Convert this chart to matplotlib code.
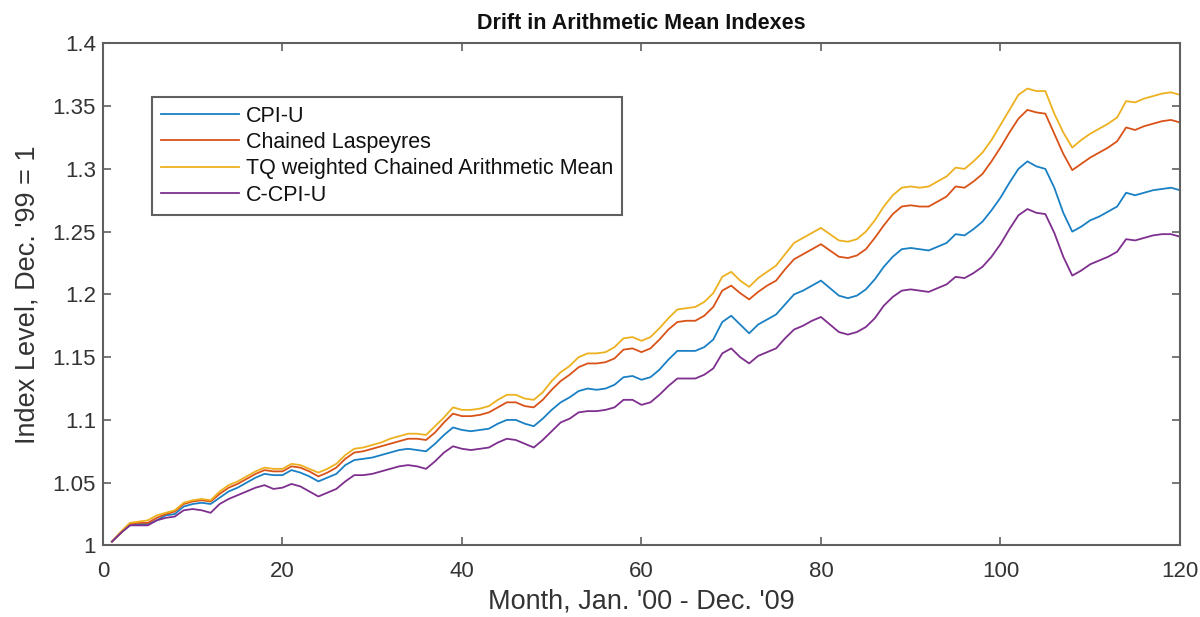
import matplotlib
matplotlib.use("Agg")
import matplotlib.pyplot as plt

plt.rcParams['font.family'] = ['Liberation Sans', 'DejaVu Sans']

months = list(range(1, 121))

cpi_u = [1.003, 1.010, 1.016, 1.017, 1.017, 1.020, 1.024, 1.025, 1.031, 1.033,
         1.034, 1.033, 1.038, 1.043, 1.046, 1.050, 1.054, 1.057, 1.056, 1.056,
         1.060, 1.058, 1.055, 1.051, 1.054, 1.057, 1.064, 1.068, 1.069, 1.070,
         1.072, 1.074, 1.076, 1.077, 1.076, 1.075, 1.081, 1.088, 1.094, 1.092,
         1.091, 1.092, 1.093, 1.097, 1.100, 1.100, 1.097, 1.095, 1.101, 1.108,
         1.114, 1.118, 1.123, 1.125, 1.124, 1.125, 1.128, 1.134, 1.135, 1.132,
         1.134, 1.140, 1.148, 1.155, 1.155, 1.155, 1.158, 1.164, 1.178, 1.183,
         1.176, 1.169, 1.176, 1.180, 1.184, 1.192, 1.200, 1.203, 1.207, 1.211,
         1.205, 1.199, 1.197, 1.199, 1.204, 1.212, 1.222, 1.230, 1.236, 1.237,
         1.236, 1.235, 1.238, 1.241, 1.248, 1.247, 1.252, 1.258, 1.267, 1.277,
         1.289, 1.300, 1.306, 1.302, 1.300, 1.285, 1.265, 1.250, 1.254, 1.259,
         1.262, 1.266, 1.270, 1.281, 1.279, 1.281, 1.283, 1.284, 1.285, 1.283]

chained_laspeyres = [1.003, 1.010, 1.017, 1.018, 1.018, 1.022, 1.025, 1.027, 1.033, 1.035,
                     1.036, 1.035, 1.041, 1.046, 1.049, 1.053, 1.057, 1.060, 1.059, 1.059,
                     1.063, 1.062, 1.059, 1.055, 1.058, 1.062, 1.069, 1.074, 1.075, 1.077,
                     1.079, 1.081, 1.083, 1.085, 1.085, 1.084, 1.090, 1.098, 1.105, 1.103,
                     1.103, 1.104, 1.106, 1.110, 1.114, 1.114, 1.111, 1.110, 1.116, 1.124,
                     1.131, 1.136, 1.142, 1.145, 1.145, 1.146, 1.149, 1.156, 1.157, 1.154,
                     1.157, 1.164, 1.172, 1.178, 1.179, 1.179, 1.183, 1.190, 1.203, 1.207,
                     1.201, 1.196, 1.202, 1.207, 1.211, 1.220, 1.228, 1.232, 1.236, 1.240,
                     1.235, 1.230, 1.229, 1.231, 1.236, 1.245, 1.255, 1.264, 1.270, 1.271,
                     1.270, 1.270, 1.274, 1.278, 1.286, 1.285, 1.290, 1.296, 1.306, 1.317,
                     1.329, 1.340, 1.347, 1.345, 1.344, 1.328, 1.312, 1.299, 1.304, 1.309,
                     1.313, 1.317, 1.322, 1.333, 1.331, 1.334, 1.336, 1.338, 1.339, 1.337]

tq_weighted = [1.003, 1.011, 1.018, 1.019, 1.020, 1.024, 1.026, 1.028, 1.034, 1.036,
               1.037, 1.036, 1.043, 1.048, 1.051, 1.055, 1.059, 1.062, 1.061, 1.061,
               1.065, 1.064, 1.061, 1.058, 1.061, 1.065, 1.072, 1.077, 1.078, 1.080,
               1.082, 1.085, 1.087, 1.089, 1.089, 1.088, 1.095, 1.102, 1.110, 1.108,
               1.108, 1.109, 1.111, 1.116, 1.120, 1.120, 1.117, 1.116, 1.122, 1.131,
               1.138, 1.143, 1.150, 1.153, 1.153, 1.154, 1.158, 1.165, 1.166, 1.163,
               1.166, 1.173, 1.181, 1.188, 1.189, 1.190, 1.194, 1.201, 1.214, 1.218,
               1.211, 1.206, 1.213, 1.218, 1.223, 1.232, 1.241, 1.245, 1.249, 1.253,
               1.248, 1.243, 1.242, 1.244, 1.250, 1.259, 1.270, 1.279, 1.285, 1.286,
               1.285, 1.286, 1.290, 1.294, 1.301, 1.300, 1.306, 1.313, 1.323, 1.335,
               1.347, 1.359, 1.364, 1.362, 1.362, 1.344, 1.329, 1.317, 1.323, 1.328,
               1.332, 1.336, 1.341, 1.354, 1.353, 1.356, 1.358, 1.360, 1.361, 1.359]

c_cpi_u = [1.003, 1.010, 1.016, 1.016, 1.016, 1.020, 1.022, 1.023, 1.028, 1.029,
           1.028, 1.026, 1.033, 1.037, 1.040, 1.043, 1.046, 1.048, 1.045, 1.046,
           1.049, 1.047, 1.043, 1.039, 1.042, 1.045, 1.051, 1.056, 1.056, 1.057,
           1.059, 1.061, 1.063, 1.064, 1.063, 1.061, 1.067, 1.074, 1.079, 1.077,
           1.076, 1.077, 1.078, 1.082, 1.085, 1.084, 1.081, 1.078, 1.084, 1.091,
           1.098, 1.101, 1.106, 1.107, 1.107, 1.108, 1.110, 1.116, 1.116, 1.112,
           1.114, 1.120, 1.127, 1.133, 1.133, 1.133, 1.136, 1.141, 1.153, 1.157,
           1.150, 1.145, 1.151, 1.154, 1.157, 1.165, 1.172, 1.175, 1.179, 1.182,
           1.176, 1.170, 1.168, 1.170, 1.174, 1.181, 1.191, 1.198, 1.203, 1.204,
           1.203, 1.202, 1.205, 1.208, 1.214, 1.213, 1.217, 1.222, 1.230, 1.240,
           1.252, 1.263, 1.268, 1.265, 1.264, 1.249, 1.230, 1.215, 1.219, 1.224,
           1.227, 1.230, 1.234, 1.244, 1.243, 1.245, 1.247, 1.248, 1.248, 1.246]

labels = ["CPI-U", "Chained Laspeyres", "TQ weighted Chained Arithmetic Mean", "C-CPI-U"]
colors = ["#1A80C4", "#D95319", "#EDB120", "#7E2F8E"]

x_ticks = [0, 20, 40, 60, 80, 100, 120]
y_ticks = [1, 1.05, 1.1, 1.15, 1.2, 1.25, 1.3, 1.35, 1.4]
y_ticklabels = ["1", "1.05", "1.1", "1.15", "1.2", "1.25", "1.3", "1.35", "1.4"]

axis_gray = "#606060"
text_gray = "#333333"

fig = plt.figure(figsize=(12, 6.17), dpi=100)
ax = fig.add_axes([0.0858, 0.116, 0.8975, 0.8137])

for series, lab, col in zip([cpi_u, chained_laspeyres, tq_weighted, c_cpi_u], labels, colors):
    ax.plot(months, series, color=col, linewidth=1.3, label=lab)

ax.set_xlim(0, 120)
ax.set_ylim(1, 1.4)
ax.set_xticks(x_ticks)
ax.set_yticks(y_ticks)
ax.set_yticklabels(y_ticklabels)
ax.tick_params(direction='in', top=True, right=True, length=6, width=1.2,
               colors=axis_gray, labelcolor=text_gray, labelsize=16)
ax.tick_params(axis='x', pad=11)
ax.tick_params(axis='y', pad=5)
for sp in ax.spines.values():
    sp.set_color(axis_gray)
    sp.set_linewidth(1.5)

ax.set_title("Drift in Arithmetic Mean Indexes", fontsize=15.5, fontweight='bold',
             color='#111111', pad=10)
ax.set_xlabel("Month, Jan. '00 - Dec. '09", fontsize=19.5, color=text_gray, labelpad=5)
ax.set_ylabel("Index Level, Dec. '99 = 1", fontsize=19.5, color=text_gray, labelpad=9)

leg = ax.legend(loc='upper left', bbox_to_anchor=(0.0455, 0.894), borderaxespad=0,
                fontsize=15.5, handlelength=3.6, handletextpad=0.33, labelspacing=0.25,
                fancybox=False, framealpha=1, borderpad=0.42)
leg.get_frame().set_edgecolor(axis_gray)
leg.get_frame().set_linewidth(1.5)
for t in leg.get_texts():
    t.set_color('#111111')

fig.savefig("out.png", dpi=100)
